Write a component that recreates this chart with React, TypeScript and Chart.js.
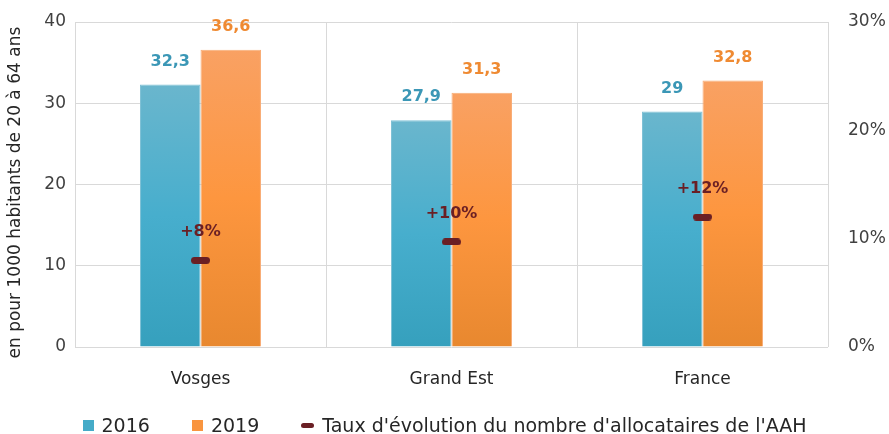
import React, { useEffect, useRef } from "react";
import { Chart, registerables } from "chart.js";

Chart.register(...registerables);

const categories = ["Vosges", "Grand Est", "France"];
const values2016 = [32.3, 27.9, 29];
const values2019 = [36.6, 31.3, 32.8];
const evolution = [0.08, 0.097, 0.12];
const evolutionLabels = ["+8%", "+10%", "+12%"];
const leftTicks = [0, 10, 20, 30, 40];
const seriesNames = ["2016", "2019", "Taux d'évolution du nombre d'allocataires de l'AAH"];
const yTitle = "en pour 1000 habitants de 20 à 64 ans";

const FONT = "'DejaVu Sans', sans-serif";
const BLUE_LABEL = "#3b97b6";
const ORANGE_LABEL = "#ef8a32";
const MARK = "#6a1f24";

function makeMarker(): HTMLCanvasElement {
  const c = document.createElement("canvas");
  c.width = 19;
  c.height = 7;
  const ctx = c.getContext("2d")!;
  ctx.fillStyle = MARK;
  ctx.beginPath();
  const r = 3.5;
  ctx.moveTo(r, 0);
  ctx.lineTo(19 - r, 0);
  ctx.arc(19 - r, r, r, -Math.PI / 2, Math.PI / 2);
  ctx.lineTo(r, 7);
  ctx.arc(r, r, r, Math.PI / 2, (3 * Math.PI) / 2);
  ctx.closePath();
  ctx.fill();
  return c;
}

function barGradient(ctx: any, top: string, mid: string, bottom: string) {
  const chart = ctx.chart;
  const area = chart.chartArea;
  if (!area || ctx.type !== "data") return mid;
  const y = chart.scales.y;
  const v = ctx.raw as number;
  const yTop = y.getPixelForValue(v);
  const yBot = y.getPixelForValue(0);
  const g = chart.ctx.createLinearGradient(0, yTop, 0, yBot);
  g.addColorStop(0, top);
  g.addColorStop(0.5, mid);
  g.addColorStop(1, bottom);
  return g;
}

const labelPlugin = {
  id: "valueLabels",
  afterDatasetsDraw(chart: any) {
    const ctx = chart.ctx;
    ctx.save();
    ctx.textAlign = "center";
    ctx.textBaseline = "middle";
    chart.data.datasets.forEach((ds: any, di: number) => {
      const meta = chart.getDatasetMeta(di);
      meta.data.forEach((el: any, i: number) => {
        if (ds.type === "line") {
          ctx.font = `bold 16px ${FONT}`;
          ctx.fillStyle = MARK;
          ctx.fillText(evolutionLabels[i], el.x, el.y - 28);
        } else {
          const v = ds.data[i] as number;
          ctx.font = `bold 16px ${FONT}`;
          ctx.fillStyle = ds.label === seriesNames[0] ? BLUE_LABEL : ORANGE_LABEL;
          ctx.fillText(String(v).replace(".", ","), el.x, el.y - 23);
        }
      });
    });
    ctx.restore();
  },
};

export default function App() {
  const ref = useRef<HTMLCanvasElement>(null);
  useEffect(() => {
    const marker = makeMarker();
    const chart = new Chart(ref.current!, {
      type: "bar",
      data: {
        labels: categories,
        datasets: [
          {
            type: "line",
            label: seriesNames[2],
            data: evolution,
            yAxisID: "y1",
            showLine: false,
            pointStyle: marker as any,
            pointRadius: 9,
            pointHoverRadius: 9,
            order: 0,
          } as any,
          {
            label: seriesNames[0],
            data: values2016,
            yAxisID: "y",
            backgroundColor: (c: any) => barGradient(c, "#6ab6cd", "#47aecd", "#36a0bd"),
            borderColor: "#7fc1d6",
            borderWidth: 1,
            categoryPercentage: 0.482,
            barPercentage: 1,
            order: 1,
          },
          {
            label: seriesNames[1],
            data: values2019,
            yAxisID: "y",
            backgroundColor: (c: any) => barGradient(c, "#f9a163", "#fd963f", "#e8882f"),
            borderColor: "#f8ad76",
            borderWidth: 1,
            categoryPercentage: 0.482,
            barPercentage: 1,
            order: 1,
          },
        ],
      },
      options: {
        animation: false,
        responsive: true,
        maintainAspectRatio: false,
        devicePixelRatio: 1,
        layout: { padding: { top: 22, left: 0, right: 0, bottom: 0 } },
        plugins: {
          legend: { display: false },
          tooltip: { enabled: false },
        },
        scales: {
          x: {
            grid: { color: "#d9d9d9", drawTicks: false, offset: true },
            border: { display: false },
            ticks: { color: "#262626", font: { family: FONT, size: 17 }, padding: 22 },
            afterFit: (s: any) => {
              s.height = 87;
            },
          },
          y: {
            position: "left",
            min: 0,
            max: 40,
            afterBuildTicks: (s: any) => {
              s.ticks = leftTicks.map((v) => ({ value: v }));
            },
            grid: { color: "#d9d9d9", drawTicks: false },
            border: { display: false },
            ticks: { color: "#404040", font: { family: FONT, size: 17 }, padding: 9 },
            title: {
              display: true,
              text: yTitle + "   ",
              color: "#262626",
              font: { family: FONT, size: 17 },
              padding: { top: 5, bottom: 0 },
            },
            afterFit: (s: any) => {
              s.width = 75;
              s.paddingTop = 0;
              s.paddingBottom = 0;
            },
          },
          y1: {
            position: "right",
            min: 0,
            max: 0.3,
            ticks: {
              stepSize: 0.1,
              color: "#404040",
              font: { family: FONT, size: 17 },
              padding: 20,
              callback: (v: any) => Math.round(Number(v) * 100) + "%",
            },
            grid: { display: false, drawTicks: false },
            border: { display: false },
            afterFit: (s: any) => {
              s.width = 61;
              s.paddingTop = 0;
              s.paddingBottom = 0;
            },
          },
        },
      },
      plugins: [labelPlugin],
    });
    return () => chart.destroy();
  }, []);

  const legendItem = (swatch: React.ReactNode, text: string) => (
    <div style={{ display: "flex", alignItems: "center" }}>
      {swatch}
      <span style={{ marginLeft: 8 }}>{text}</span>
    </div>
  );

  return (
    <div style={{ position: "absolute", left: 0, top: 0, width: 889, height: 434, background: "#fff" }}>
      <canvas ref={ref} />
      <div
        style={{
          position: "absolute",
          left: 0,
          width: 889,
          top: 413,
          height: 24,
          display: "flex",
          justifyContent: "center",
          alignItems: "center",
          gap: 42,
          fontFamily: FONT,
          fontSize: 19,
          color: "#262626",
        }}
      >
        {legendItem(<div style={{ width: 11, height: 11, background: "#45abc8" }} />, seriesNames[0])}
        {legendItem(<div style={{ width: 11, height: 11, background: "#f9953f" }} />, seriesNames[1])}
        {legendItem(
          <div style={{ width: 13, height: 5, borderRadius: 3, background: MARK }} />,
          seriesNames[2]
        )}
      </div>
    </div>
  );
}
